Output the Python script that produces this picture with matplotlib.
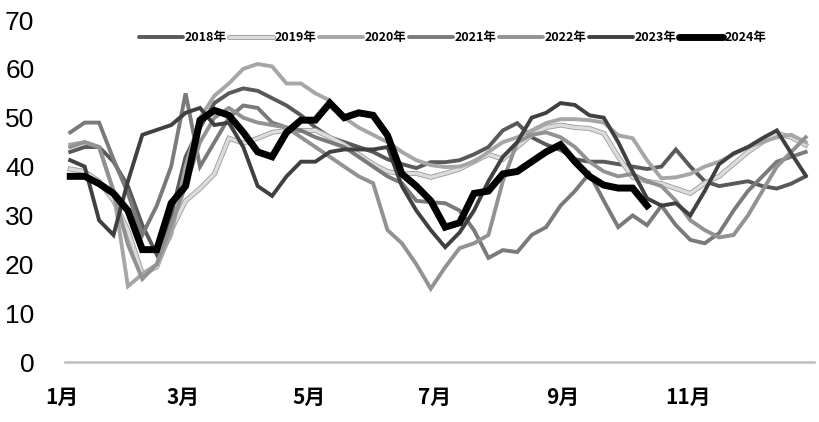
import matplotlib
matplotlib.use("Agg")
import matplotlib.pyplot as plt
import matplotlib.patheffects as pe

plt.rcParams['font.family'] = ['Noto Sans CJK SC', 'DejaVu Sans']

# week index -> day of year (weekly data)
n_weeks = 52
first_day = 4
week_days = [first_day + 7 * i for i in range(n_weeks)]

years = ["2018年", "2019年", "2020年", "2021年", "2022年", "2023年", "2024年"]

s2018 = [43, 44, 44, 41, 36, 28, 22, 30, 42, 48, 53, 55,
         56, 55.5, 54, 52.5, 50.5, 48, 46, 45, 44, 43, 41.5, 40.5,
         39.7, 40.9, 40.9, 41.3, 42.5, 44, 47.4, 48.9, 46, 44.5, 43.4, 41.5,
         41, 41, 40.5, 40, 39.5, 40, 43.5, 40, 37, 36, 36.5, 37,
         36, 35.5, 36.5, 38]
s2019 = [39.5, 39, 37, 33, 27, 18, 19.5, 27, 33, 35.5, 38.5, 45.8,
         44.8, 45.8, 47, 47.4, 47.4, 47.4, 46, 44.5, 42.5, 40.5, 39, 38.5,
         38.6, 37.8, 38.6, 39.5, 41, 42.5, 41.5, 44, 46.5, 48, 48.5, 48,
         47.8, 46.8, 42, 37.8, 37, 36.5, 35.5, 34.5, 36.6, 38, 40.5, 43,
         45, 46.8, 46, 44.4]
s2020 = [44.5, 45, 44, 35, 15.5, 18, 20, 26, 40, 50, 54.5, 57,
         60, 61, 60.5, 57, 57, 55, 53.5, 50, 48, 46.5, 45, 43,
         41.3, 40.3, 39.9, 40, 41, 43, 45, 46, 47.4, 48.9, 49.7, 49.7,
         49.5, 49, 46.4, 45.8, 41.3, 37.6, 37.8, 38.5, 40, 41, 42.5, 44,
         45, 46, 46.5, 45]
s2021 = [47, 49, 49, 41.5, 34.5, 26, 32, 40, 55, 40, 45, 50,
         52.5, 52, 49, 48, 47.4, 46, 45, 44, 42, 40, 38, 36.6,
         33, 32.7, 32.5, 31, 27, 21.3, 22.9, 22.5, 26, 27.6, 32, 35,
         38.6, 33, 27.6, 30, 28, 32, 28, 25, 24.3, 26.4, 31, 35,
         38, 41, 42, 43]
s2022 = [44, 45, 44, 35, 24, 17, 20, 28, 36, 45, 50, 52,
         50, 49, 48.5, 48, 46, 44, 42, 40, 38, 36.6, 27, 24.3,
         20, 15, 19.4, 23.3, 24.3, 26, 37, 45, 46.5, 47, 46, 44,
         41, 39, 38, 38.5, 37, 36, 33, 29, 27, 25.5, 26, 30,
         35, 40, 43, 46]
s2023 = [41.3, 40, 29, 26, 37, 46.5, 47.5, 48.5, 51, 52, 48.5, 49,
         44, 36, 34, 38, 41, 41, 43, 43.5, 43.5, 43.5, 44, 36,
         31, 27, 23.5, 26.5, 31, 37, 42, 45, 50, 51, 53, 52.6,
         50.5, 50, 45, 39, 33.5, 32, 32.5, 30, 35, 40.5, 42.7, 44,
         45.8, 47.4, 42.7, 38.2]
s2024 = [38, 38, 36.5, 34.5, 31, 23, 23, 32.5, 36, 49.5, 51.5, 50.5,
         47, 43, 42, 47, 49.5, 49.5, 53, 50, 51, 50.5, 46.4, 38.5,
         36, 33, 27.6, 28.5, 34.5, 35, 38.5, 39, 41, 43, 44.5, 41,
         38, 36.2, 35.6, 35.6, 32]

series = [s2018, s2019, s2020, s2021, s2022, s2023, s2024]
colors = ["#595959", "#dcdcdc", "#a6a6a6", "#7a7a7a", "#929292", "#404040", "#000000"]
widths = [2.8, 2.4, 2.8, 2.8, 2.8, 2.8, 5.0]

month_labels = ["1月", "3月", "5月", "7月", "9月", "11月"]
month_days = [0, 59, 120, 181, 243, 304]
y_ticks = [0, 10, 20, 30, 40, 50, 60, 70]

fig = plt.figure(figsize=(8.19, 4.22), dpi=100)
ax = fig.add_axes([65 / 819, 60 / 422, 749 / 819, 342 / 422])

for name, vals, c, lw in zip(years, series, colors, widths):
    x = week_days[:len(vals)]
    if name == "2019年":
        ax.plot(x, vals, color=c, lw=lw, label=name, solid_joinstyle='miter',
                path_effects=[pe.Stroke(linewidth=lw + 1.2, foreground="#9a9a9a"), pe.Normal()])
    else:
        ax.plot(x, vals, color=c, lw=lw, label=name, solid_joinstyle='miter')

px_per_day = 2.06
ax.set_xlim((65 - 62) / px_per_day, (814 - 62) / px_per_day)
ax.set_ylim(0, 70)

for s in ["top", "right", "left"]:
    ax.spines[s].set_visible(False)
ax.spines["bottom"].set_color("#bfbfbf")
ax.spines["bottom"].set_linewidth(1.8)

ax.set_yticks(y_ticks)
ax.set_yticklabels([str(v) for v in y_ticks], fontsize=19, family=['Liberation Sans', 'DejaVu Sans'])
ax.tick_params(axis='y', length=0, pad=22)
ax.set_xticks([])

for lab, d in zip(month_labels, month_days):
    ax.text(d, -7.2, lab, ha='center', va='center', fontsize=15, fontweight='bold',
            clip_on=False)

leg = ax.legend(loc='upper center', ncol=7, frameon=False,
                handlelength=3.5, handletextpad=0.15, columnspacing=0.2,
                prop={'weight': 'bold', 'size': 9})
for h in leg.get_lines():
    h.set_solid_capstyle('round')
leg.set_bbox_to_anchor((0.518, 1.0))

fig.savefig("out.png", dpi=100, facecolor="white")
